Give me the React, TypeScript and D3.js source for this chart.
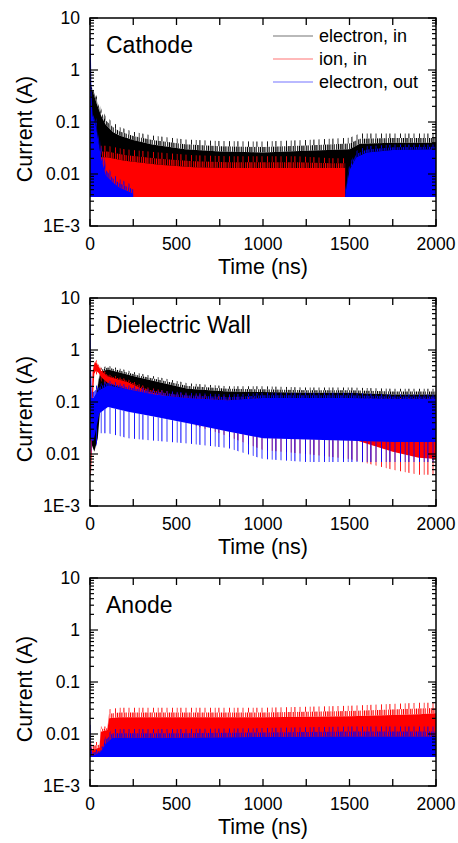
import React, { useEffect, useRef } from 'react'
import * as d3 from 'd3'

// lowest value drawn (the plotted noise floor)
const FLOOR = 0.0036

const timeTicks = [0, 250, 500, 750, 1000, 1250, 1500, 1750, 2000]
const timeLabels = [0, 500, 1000, 1500, 2000]
const currentLabels = [0.001, 0.01, 0.1, 1, 10]
const currentLabelText = ['1E-3', '0.01', '0.1', '1', '10']
const legendNames = ['electron, in', 'ion, in', 'electron, out']
const panelNames = ['Cathode', 'Dielectric Wall', 'Anode']

// ---- Cathode ----
const cathEinT = [0, 15, 40, 65, 90, 130, 170, 250, 360, 550, 750, 1000, 1250, 1500, 1560, 1750, 2000]
const cathEinPeak = [0.55, 0.5, 0.3, 0.18, 0.13, 0.1, 0.08, 0.065, 0.055, 0.046, 0.043, 0.042, 0.045, 0.05, 0.06, 0.06, 0.06]
const cathEinCore = [0.45, 0.4, 0.22, 0.13, 0.09, 0.065, 0.055, 0.045, 0.037, 0.03, 0.027, 0.026, 0.028, 0.03, 0.038, 0.04, 0.04]

const cathIonT = [0, 20, 35, 60, 100, 200, 400, 600, 800, 1000, 1200, 1400, 1475]
const cathIonPeak = [0.015, 0.03, 0.04, 0.035, 0.035, 0.03, 0.026, 0.023, 0.022, 0.022, 0.022, 0.02, 0.02]
const cathIonCore = [0.008, 0.018, 0.024, 0.021, 0.021, 0.018, 0.015, 0.0135, 0.013, 0.013, 0.013, 0.013, 0.013]

const cathEoutT1 = [0, 4, 8, 15, 35, 64, 92, 130, 170, 250]
const cathEoutPeak1 = [5, 5, 0.5, 0.16, 0.12, 0.035, 0.015, 0.01, 0.008, 0.006]
const cathEoutCore1 = [4, 4, 0.3, 0.13, 0.08, 0.02, 0.0095, 0.007, 0.0055, 0.0042]
const cathEoutT2 = [1475, 1500, 1540, 1600, 1750, 2000]
const cathEoutPeak2 = [0.006, 0.016, 0.028, 0.034, 0.037, 0.037]
const cathEoutCore2 = [0.004, 0.012, 0.021, 0.026, 0.029, 0.03]

// ---- Dielectric wall ----
const dielEinT = [0, 10, 25, 45, 60, 104, 277, 566, 797, 1000, 1250, 1500, 1750, 2000]
const dielEinPeak = [0.06, 0.06, 0.1, 0.25, 0.45, 0.5, 0.36, 0.23, 0.2, 0.2, 0.19, 0.19, 0.18, 0.18]
const dielEinCore = [0.05, 0.05, 0.08, 0.2, 0.38, 0.42, 0.3, 0.18, 0.16, 0.155, 0.15, 0.15, 0.14, 0.14]
const dielEinLow = [0.02, 0.015, 0.011, 0.02, 0.08, 0.1, 0.08, 0.06, 0.05, 0.04, 0.04, 0.04, 0.04, 0.04]

const dielIonT = [0, 5, 10, 15, 25, 35, 50, 65, 104, 220, 335, 500, 750, 1000, 1250, 1500, 1750, 1900, 2000]
const dielIonPeak = [0.004, 0.02, 0.15, 0.45, 0.6, 0.65, 0.55, 0.45, 0.34, 0.27, 0.19, 0.15, 0.13, 0.12, 0.12, 0.12, 0.12, 0.12, 0.12]
const dielIonCore = [0.0038, 0.015, 0.1, 0.38, 0.55, 0.58, 0.48, 0.4, 0.31, 0.24, 0.16, 0.12, 0.1, 0.09, 0.09, 0.09, 0.09, 0.09, 0.09]
const dielIonLow = [0.0036, 0.005, 0.01, 0.1, 0.35, 0.4, 0.36, 0.3, 0.23, 0.17, 0.13, 0.07, 0.04, 0.027, 0.022, 0.02, 0.011, 0.0085, 0.008]
const dielIonDip = [0.0036, 0.004, 0.006, 0.05, 0.3, 0.35, 0.3, 0.25, 0.2, 0.14, 0.08, 0.045, 0.025, 0.012, 0.01, 0.008, 0.005, 0.004, 0.004]

const dielEoutT = [0, 3, 6, 10, 20, 30, 54, 104, 220, 375, 566, 797, 1000, 1250, 1500, 1750, 2000]
const dielEoutPeak = [4.5, 4.5, 0.5, 0.2, 0.2, 0.2, 0.22, 0.26, 0.21, 0.17, 0.15, 0.14, 0.15, 0.15, 0.15, 0.14, 0.14]
const dielEoutCore = [3.6, 3.6, 0.3, 0.12, 0.12, 0.14, 0.17, 0.21, 0.175, 0.14, 0.12, 0.108, 0.12, 0.12, 0.12, 0.115, 0.115]
const dielEoutLow = [0.03, 0.03, 0.02, 0.018, 0.018, 0.025, 0.06, 0.08, 0.065, 0.052, 0.039, 0.027, 0.02, 0.019, 0.018, 0.017, 0.017]
const dielEoutDip = [0.02, 0.02, 0.012, 0.01, 0.01, 0.012, 0.025, 0.025, 0.02, 0.018, 0.016, 0.013, 0.008, 0.007, 0.007, 0.007, 0.007]

// ---- Anode ----
const anIonT = [0, 15, 55, 62, 100, 110, 170, 500, 1000, 1500, 1900, 2000]
const anIonPeak = [0.006, 0.007, 0.007, 0.014, 0.014, 0.03, 0.032, 0.032, 0.032, 0.035, 0.04, 0.04]
const anIonCore = [0.004, 0.005, 0.0055, 0.011, 0.012, 0.02, 0.021, 0.021, 0.021, 0.022, 0.024, 0.025]

const anEoutT = [0, 3, 6, 15, 60, 90, 130, 500, 1000, 1500, 2000]
const anEoutPeak = [0.018, 0.018, 0.006, 0.005, 0.005, 0.009, 0.0125, 0.0125, 0.013, 0.014, 0.014]
const anEoutCore = [0.015, 0.015, 0.004, 0.0038, 0.0045, 0.0065, 0.0085, 0.0085, 0.0088, 0.009, 0.009]

const BLACK = '#000000'
const RED = '#ff0000'
const BLUE = '#0000ff'
const colors = [BLACK, RED, BLUE]
const colorKeys = ['k', 'r', 'b']

const band = (color, t, peak, core, low = null, dip = null) => ({ color, t, peak, core, low, dip })

const panelBands = [
  [
    band(BLACK, cathEinT, cathEinPeak, cathEinCore),
    band(RED, cathIonT, cathIonPeak, cathIonCore),
    band(BLUE, cathEoutT1, cathEoutPeak1, cathEoutCore1),
    band(BLUE, cathEoutT2, cathEoutPeak2, cathEoutCore2),
  ],
  [
    band(BLACK, dielEinT, dielEinPeak, dielEinCore, dielEinLow),
    band(RED, dielIonT, dielIonPeak, dielIonCore, dielIonLow, dielIonDip),
    band(BLUE, dielEoutT, dielEoutPeak, dielEoutCore, dielEoutLow, dielEoutDip),
  ],
  [
    band(RED, anIonT, anIonPeak, anIonCore),
    band(BLUE, anEoutT, anEoutPeak, anEoutCore),
  ],
]

// hatch tiles: [x, width] of each stroke inside a tile
const hatches = {
  dense: { w: 13, bars: [[0, 1.1], [1.9, 0.9], [3.4, 1.3], [5.5, 0.8], [7.2, 1.2], [9.3, 0.7], [11.2, 1]] },
  sparse: { w: 19, bars: [[1, 0.9], [5.8, 0.7], [9.4, 1], [14.6, 0.8]] },
}

const W = 458
const H = 843
const FONT = "'Liberation Sans', Arial, sans-serif"

function App() {
  const svgRef = useRef(null)

  useEffect(() => {
    const svg = d3.select(svgRef.current)
    svg.selectAll('*').remove()

    // vertical hatch fills, so the noisy fringes read as spikes
    const defs = svg.append('defs')
    colors.forEach((c, i) => {
      Object.entries(hatches).forEach(([name, h]) => {
        const pat = defs.append('pattern').attr('id', `${name}-${colorKeys[i]}`)
          .attr('patternUnits', 'userSpaceOnUse').attr('width', h.w).attr('height', 10)
        h.bars.forEach(([px, pw]) =>
          pat.append('rect').attr('x', px).attr('y', 0).attr('width', pw).attr('height', 10).attr('fill', c))
      })
    })
    const key = c => colorKeys[colors.indexOf(c)]

    const left = 90
    const right = 436
    const x = d3.scaleLinear().domain([0, 2000]).range([left, right])

    panelBands.forEach((bands, p) => {
      const top = 18 + p * 280
      const bottom = 226 + p * 280
      const y = d3.scaleLog().domain([0.001, 10]).range([bottom, top])
      const g = svg.append('g')

      const clipId = 'clip' + p
      g.append('clipPath').attr('id', clipId)
        .append('rect').attr('x', left).attr('y', top).attr('width', right - left).attr('height', bottom - top)
      const plot = g.append('g').attr('clip-path', `url(#${clipId})`)

      const area = (lo, hi) => d3.area()
        .x(d => x(d))
        .y0((d, i) => y(lo(i)))
        .y1((d, i) => y(hi(i)))

      bands.forEach(b => {
        const k = key(b.color)
        const low = i => (b.low ? b.low[i] : FLOOR)
        const core = i => b.core[i]
        const peak = i => b.peak[i]
        const mid = i => Math.sqrt(b.core[i] * b.peak[i])
        // spiky fringe above the dense band: dense hatch near it, sparse further out
        plot.append('path').datum(b.t).attr('d', area(mid, peak)).attr('fill', `url(#sparse-${k})`)
        plot.append('path').datum(b.t).attr('d', area(core, mid)).attr('fill', `url(#dense-${k})`)
        if (b.dip) {
          plot.append('path').datum(b.t).attr('d', area(i => b.dip[i], low)).attr('fill', `url(#sparse-${k})`)
        }
        plot.append('path').datum(b.t).attr('d', area(low, core)).attr('fill', b.color)
      })

      // frame
      g.append('rect').attr('x', left).attr('y', top).attr('width', right - left).attr('height', bottom - top)
        .attr('fill', 'none').attr('stroke', '#000').attr('stroke-width', 1.5)

      // x ticks, inward on top and bottom
      timeTicks.forEach(t => {
        g.append('line').attr('x1', x(t)).attr('x2', x(t)).attr('y1', bottom).attr('y2', bottom - 7)
          .attr('stroke', '#000').attr('stroke-width', 1.3)
        g.append('line').attr('x1', x(t)).attr('x2', x(t)).attr('y1', top).attr('y2', top + 7)
          .attr('stroke', '#000').attr('stroke-width', 1.3)
      })
      timeLabels.forEach(t => {
        g.append('text').attr('x', x(t)).attr('y', bottom + 24)
          .attr('text-anchor', 'middle').attr('font-size', 17.5).attr('font-family', FONT)
          .text(t)
      })

      // y ticks (log, with minors), inward on left and right
      const yTicks = []
      for (let e = -3; e <= 1; e++) {
        for (let m = 1; m <= 9; m++) {
          const v = m * Math.pow(10, e)
          if (v > 10.0001) break
          yTicks.push({ v, major: m === 1 })
        }
      }
      yTicks.forEach(tk => {
        const len = tk.major ? 8 : 4
        g.append('line').attr('x1', left).attr('x2', left + len).attr('y1', y(tk.v)).attr('y2', y(tk.v))
          .attr('stroke', '#000').attr('stroke-width', 1.2)
        g.append('line').attr('x1', right).attr('x2', right - len).attr('y1', y(tk.v)).attr('y2', y(tk.v))
          .attr('stroke', '#000').attr('stroke-width', 1.2)
      })
      currentLabels.forEach((v, i) => {
        g.append('text').attr('x', left - 10).attr('y', y(v)).attr('dy', '0.35em')
          .attr('text-anchor', 'end').attr('font-size', 17.5).attr('font-family', FONT)
          .text(currentLabelText[i])
      })

      // axis titles
      g.append('text').attr('x', (left + right) / 2).attr('y', bottom + 48)
        .attr('text-anchor', 'middle').attr('font-size', 21.5).attr('font-family', FONT)
        .text('Time (ns)')
      g.append('text')
        .attr('transform', `translate(24, ${(top + bottom) / 2 + 7}) rotate(-90)`)
        .attr('dy', '0.35em')
        .attr('text-anchor', 'middle').attr('font-size', 21.5).attr('font-family', FONT)
        .text('Current (A)')

      // panel name
      g.append('text').attr('x', 106).attr('y', top + 35)
        .attr('font-size', 23).attr('font-family', FONT)
        .text(panelNames[p])

      if (p === 0) {
        legendNames.forEach((name, i) => {
          const ly = 36 + i * 23
          g.append('line').attr('x1', 273).attr('x2', 313).attr('y1', ly).attr('y2', ly)
            .attr('stroke', colors[i]).attr('stroke-width', 1.2).attr('stroke-opacity', 0.55)
          g.append('text').attr('x', 319).attr('y', ly).attr('dy', '0.35em')
            .attr('font-size', 18).attr('font-family', FONT)
            .text(name)
        })
      }
    })
  }, [])

  return (
    <div>
      <svg ref={svgRef} width={W} height={H}
        style={{ position: 'absolute', left: 0, top: 0, background: '#fff' }} />
    </div>
  )
}

export default App
